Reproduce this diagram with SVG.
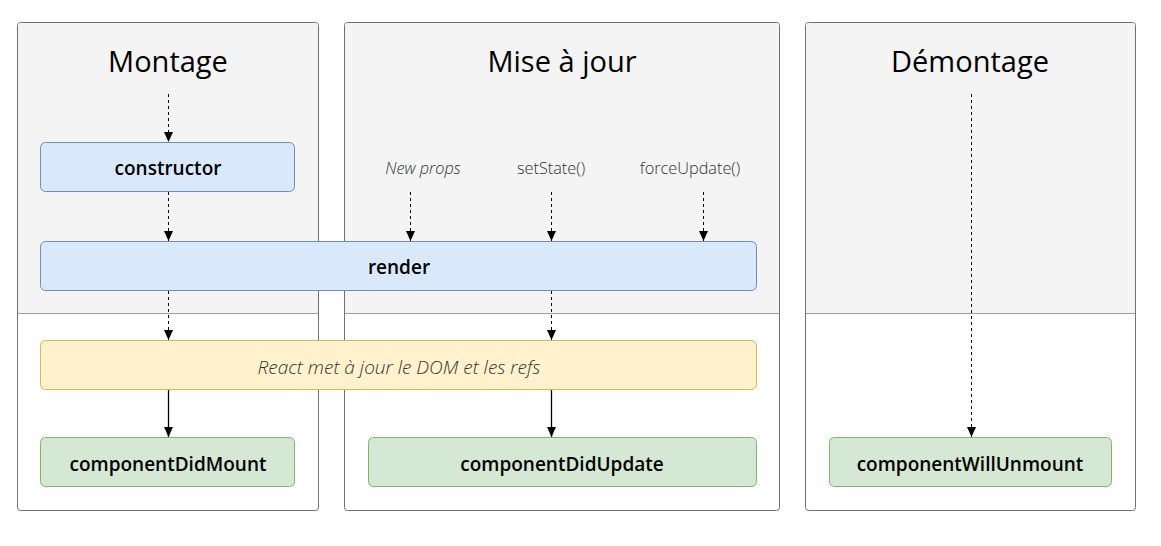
<svg xmlns="http://www.w3.org/2000/svg" width="1161" height="546" viewBox="0 0 1161 546">
<defs>
<style>
.panel{fill:#ffffff;stroke:#707070;stroke-width:1}
.top{fill:#f4f4f4;stroke:none}
.div{stroke:#a0a0a0;stroke-width:1}
.title{font-family:"Open Sans","Noto Sans",sans-serif;font-size:29px;fill:#000;text-anchor:middle}
.blue{fill:#dae8fc;stroke:#6c8ebf;stroke-width:1}
.yellow{fill:#fff2cc;stroke:#d6b656;stroke-width:1}
.green{fill:#d5e8d4;stroke:#82b366;stroke-width:1}
.lbl{font-family:"Open Sans","Noto Sans",sans-serif;font-size:19px;font-weight:600;fill:#000;text-anchor:middle}
.src{font-family:"Open Sans","Noto Sans",sans-serif;font-size:16.3px;font-weight:300;fill:#333;text-anchor:middle}
.it{font-style:italic}
.dash{stroke:#000;stroke-width:1;stroke-dasharray:3 3;fill:none}
.solid{stroke:#000;stroke-width:1.3;fill:none}
</style>
<marker id="ah" viewBox="0 0 10 10" refX="10" refY="5" markerWidth="10" markerHeight="10" markerUnits="userSpaceOnUse" orient="auto">
<path d="M0,0.5 L10,5 L0,9.5 z" fill="#000"/>
</marker>
</defs>
<rect width="1161" height="546" fill="#fff"/>
<g id="panel-montage">
<rect class="panel" x="17.5" y="22.5" width="301" height="488" rx="3"/>
<path class="top" d="M18,26 Q18,23 21,23 L315,23 Q318,23 318,26 L318,313 L18,313 Z"/>
<line class="div" x1="18" y1="313.5" x2="318" y2="313.5"/>
<text class="title" x="168" y="72">Montage</text>
</g>
<g id="panel-maj">
<rect class="panel" x="344.5" y="22.5" width="435" height="488" rx="3"/>
<path class="top" d="M345,26 Q345,23 348,23 L776,23 Q779,23 779,26 L779,313 L345,313 Z"/>
<line class="div" x1="345" y1="313.5" x2="779" y2="313.5"/>
<text class="title" x="562" y="72">Mise à jour</text>
</g>
<g id="panel-demontage">
<rect class="panel" x="805.5" y="22.5" width="330" height="488" rx="3"/>
<path class="top" d="M806,26 Q806,23 809,23 L1132,23 Q1135,23 1135,26 L1135,313 L806,313 Z"/>
<line class="div" x1="806" y1="313.5" x2="1135" y2="313.5"/>
<text class="title" x="970" y="72">Démontage</text>
</g>
<g id="src-labels">
<text class="src it" x="423" y="173.5">New props</text>
<text class="src" x="551" y="173.5">setState()</text>
<text class="src" x="690" y="173.5">forceUpdate()</text>
</g>
<g id="node-constructor">
<rect class="blue" x="40.5" y="142.5" width="254" height="49" rx="5"/>
<text class="lbl" x="168" y="175">constructor</text>
</g>
<g id="node-render">
<rect class="blue" x="40.5" y="241.5" width="716" height="49" rx="5"/>
<text class="lbl" x="399" y="274">render</text>
</g>
<g id="node-react">
<rect class="yellow" x="40.5" y="340.5" width="716" height="49" rx="5"/>
<text class="src it" x="399" y="374" style="font-size:19px;fill:#333">React met à jour le DOM et les refs</text>
</g>
<g id="node-didmount">
<rect class="green" x="40.5" y="437.5" width="254" height="49" rx="5"/>
<text class="lbl" x="168" y="471">componentDidMount</text>
</g>
<g id="node-didupdate">
<rect class="green" x="368.5" y="437.5" width="388" height="49" rx="5"/>
<text class="lbl" x="562" y="471">componentDidUpdate</text>
</g>
<g id="node-willunmount">
<rect class="green" x="829.5" y="437.5" width="282" height="49" rx="5"/>
<text class="lbl" x="970" y="471">componentWillUnmount</text>
</g>
<g id="connectors">
<line class="dash" x1="168.5" y1="94" x2="168.5" y2="142" marker-end="url(#ah)"/>
<line class="dash" x1="168.5" y1="192" x2="168.5" y2="241" marker-end="url(#ah)"/>
<line class="dash" x1="168.5" y1="291" x2="168.5" y2="340" marker-end="url(#ah)"/>
<line class="solid" x1="168.5" y1="390" x2="168.5" y2="437" marker-end="url(#ah)"/>
<line class="dash" x1="410.5" y1="192" x2="410.5" y2="241" marker-end="url(#ah)"/>
<line class="dash" x1="551.5" y1="192" x2="551.5" y2="241" marker-end="url(#ah)"/>
<line class="dash" x1="703.5" y1="192" x2="703.5" y2="241" marker-end="url(#ah)"/>
<line class="dash" x1="551.5" y1="291" x2="551.5" y2="340" marker-end="url(#ah)"/>
<line class="solid" x1="551.5" y1="390" x2="551.5" y2="437" marker-end="url(#ah)"/>
<line class="dash" x1="971.5" y1="94" x2="971.5" y2="437" marker-end="url(#ah)"/>
</g>
</svg>
